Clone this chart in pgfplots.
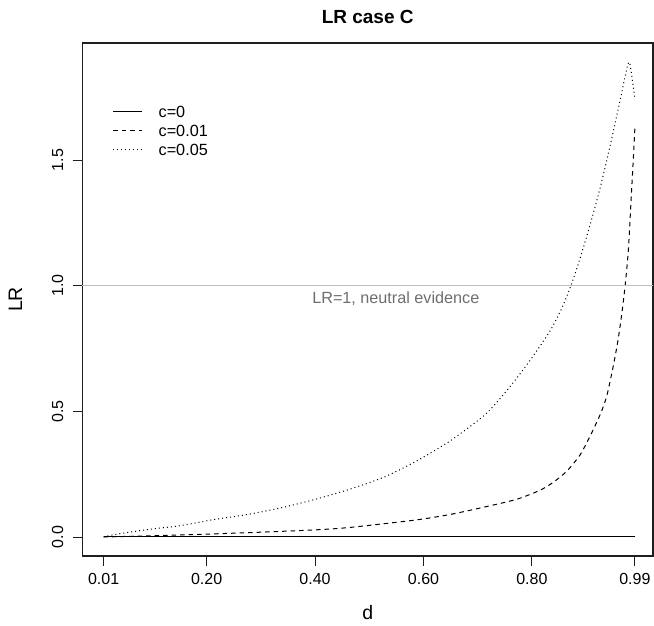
\documentclass[border=0pt]{standalone}
\usepackage{pgfplots}
\pgfplotsset{compat=1.18}
\usepackage{fontspec}
\setmainfont{Liberation Sans}
\definecolor{linegray}{RGB}{190,190,190}
\definecolor{textgray}{RGB}{110,110,110}
\definecolor{framecol}{RGB}{30,30,30}

\begin{document}
\begin{tikzpicture}[x=1pt,y=1pt]
\path[use as bounding box] (0,0) rectangle (654,626);
\begin{axis}[
  at={(82.4pt,70pt)}, anchor=south west,
  scale only axis, width=570.6pt, height=513pt,
  xmin=-0.0292, xmax=1.0234, ymin=-0.0756, ymax=1.9656,
  axis line style={line width=1.3pt, framecol},
  xtick={0.01,0.2,0.4,0.6,0.8,0.99},
  xticklabels={0.01,0.20,0.40,0.60,0.80,0.99},
  ytick={0,0.5,1,1.5},
  yticklabels={0.0,0.5,1.0,1.5},
  tick align=outside, major tick length=9.7pt,
  xtick pos=bottom, ytick pos=left,
  tick style={line width=0.9pt, framecol},
  ticklabel style={font=\fontsize{16}{18}\selectfont},
  xticklabel style={anchor=center, yshift=-13.5pt},
  yticklabel style={anchor=center, xshift=-15pt, rotate=90},
  /pgf/number format/assume math mode=true,
  title={LR case C},
  title style={at={(axis description cs:0.5,1.0384)}, anchor=center, yshift=0pt, font=\bfseries\fontsize{19}{22}\selectfont},
  xlabel={d},
  xlabel style={at={(axis description cs:0.5,-0.1111)}, anchor=center, font=\fontsize{19.5}{22}\selectfont},
  ylabel={LR},
  ylabel style={at={(axis description cs:-0.1174,0.5)}, anchor=center, font=\fontsize{19.5}{22}\selectfont},
  legend cell align=left,
  legend style={draw=none, fill=none, inner sep=0pt, outer sep=0pt,
    at={(axis description cs:0.0536,0.8782)}, anchor=north west,
    font=\fontsize{16.2}{18}\selectfont, row sep=7pt, column sep=15.7pt,
    nodes={inner sep=0pt, text height=12pt, text depth=0pt}},
  legend image code/.code={\draw[#1] (0pt,0pt) -- (29pt,0pt);},
  clip=false,
]
\addplot[black, line width=1pt] coordinates {(0.01,0) (0.99,0)};
\addlegendentry{c=0}
\addplot[black, line width=1pt, dash pattern=on 4.5pt off 4pt, smooth, tension=0.4] coordinates {
(0.01,0.000) (0.151,0.008) (0.274,0.017) (0.397,0.028) (0.464,0.038)
(0.587,0.068) (0.650,0.090) (0.710,0.118) (0.772,0.150) (0.815,0.186)
(0.839,0.217) (0.864,0.261) (0.889,0.327) (0.907,0.400) (0.926,0.487)
(0.938,0.560) (0.950,0.679) (0.959,0.785) (0.966,0.891) (0.972,1.000)
(0.978,1.143) (0.983,1.342) (0.987,1.501) (0.990,1.628)};
\addlegendentry{c=0.01}
\addplot[black, line width=1pt, dash pattern=on 1pt off 3pt, smooth, tension=0.4] coordinates {
(0.01,0.000) (0.028,0.009) (0.089,0.029) (0.151,0.045) (0.212,0.069)
(0.274,0.089) (0.335,0.115) (0.397,0.148) (0.458,0.186) (0.526,0.237)
(0.587,0.302) (0.649,0.382) (0.710,0.480) (0.741,0.550) (0.772,0.632)
(0.802,0.719) (0.833,0.818) (0.854,0.905) (0.872,1.000) (0.889,1.110)
(0.907,1.240) (0.926,1.390) (0.944,1.554) (0.963,1.740) (0.972,1.833)
(0.980,1.889) (0.990,1.743)};
\addlegendentry{c=0.05}
\addplot[linegray, line width=1pt, forget plot] coordinates {(-0.0292,1) (1.0234,1)};
\node[text=textgray, font=\fontsize{16.2}{18}\selectfont, anchor=center] at (axis cs:0.549,0.948) {LR=1, neutral evidence};
\end{axis}
\end{tikzpicture}
\end{document}
